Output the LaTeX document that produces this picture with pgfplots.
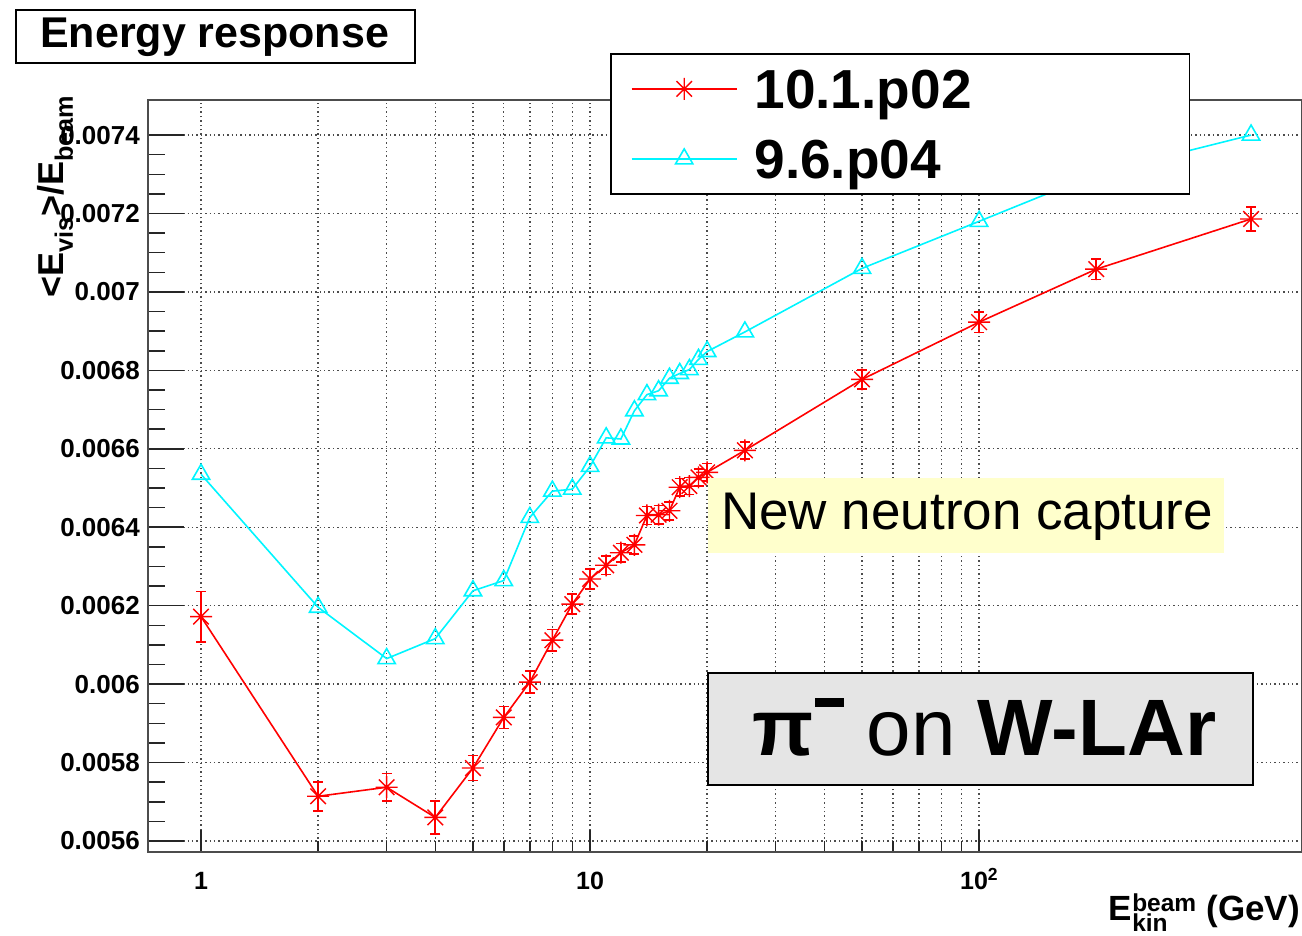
\documentclass[border=0pt]{standalone}
\usepackage{fontspec}
\setmainfont{Liberation Sans}
\usepackage{pgfplots}
\usepackage{pgfplotstable}
\pgfplotsset{compat=1.18}

\pgfdeclareplotmark{rootstar}{%
  \pgfpathmoveto{\pgfqpoint{-\pgfplotmarksize}{0pt}}\pgfpathlineto{\pgfqpoint{\pgfplotmarksize}{0pt}}%
  \pgfpathmoveto{\pgfqpoint{0pt}{-\pgfplotmarksize}}\pgfpathlineto{\pgfqpoint{0pt}{\pgfplotmarksize}}%
  \pgfpathmoveto{\pgfqpoint{-.707\pgfplotmarksize}{-.707\pgfplotmarksize}}\pgfpathlineto{\pgfqpoint{.707\pgfplotmarksize}{.707\pgfplotmarksize}}%
  \pgfpathmoveto{\pgfqpoint{-.707\pgfplotmarksize}{.707\pgfplotmarksize}}\pgfpathlineto{\pgfqpoint{.707\pgfplotmarksize}{-.707\pgfplotmarksize}}%
  \pgfusepathqstroke}

\pgfplotstableread{
E y ey
1 0.006172 0.000064
2 0.005714 0.000037
3 0.005737 0.000035
4 0.005660 0.000042
5 0.005786 0.000032
6 0.005915 0.000028
7 0.006005 0.000028
8 0.006112 0.000027
9 0.006204 0.000026
10 0.006268 0.000025
11 0.006303 0.000024
12 0.006335 0.000024
13 0.006355 0.000023
14 0.006430 0.000023
15 0.006432 0.000023
16 0.006442 0.000023
17 0.006502 0.000022
18 0.006505 0.000022
19 0.006527 0.000022
20 0.006540 0.000022
25 0.006596 0.000022
50 0.006777 0.000024
100 0.006923 0.000026
200 0.007058 0.000026
500 0.007186 0.000030
}\redtab

\pgfplotstableread{
E y
1 0.006535
2 0.006196
3 0.006065
4 0.006116
5 0.006238
6 0.006264
7 0.006425
8 0.006492
9 0.006497
10 0.006555
11 0.006628
12 0.006625
13 0.006697
14 0.006738
15 0.006748
16 0.006780
17 0.006792
18 0.006802
19 0.006828
20 0.006848
25 0.006898
50 0.007060
100 0.007180
200 0.007301
500 0.007400
}\cyantab

\definecolor{ybox}{RGB}{255,255,204}
\definecolor{gbox}{RGB}{229,229,229}
\definecolor{rootred}{RGB}{255,0,0}
\definecolor{rootcyan}{RGB}{0,245,255}

\begin{document}
\begin{tikzpicture}[x=1pt,y=1pt]
\path[use as bounding box] (0,0) rectangle (1302,936);
\begin{axis}[
  at={(148pt,84pt)}, anchor=south west,
  scale only axis, width=1154pt, height=752pt,
  xmode=log, xmin=0.7307, xmax=676,
  ymin=0.0055719, ymax=0.0074894,
  xtick={1,10,100}, xticklabels={1,10,10\textsuperscript{2}},
  ytick={0.0056,0.0058,0.006,0.0062,0.0064,0.0066,0.0068,0.007,0.0072,0.0074},
  yticklabels={0.0056,0.0058,0.006,0.0062,0.0064,0.0066,0.0068,0.007,0.0072,0.0074},
  scaled y ticks=false,
  minor y tick num=3,
  xtick pos=lower, ytick pos=left,
  tick align=inside,
  xtick style={/pgfplots/major tick length=22pt,/pgfplots/minor tick length=11pt, black!85, line width=1.5pt},
  ytick style={/pgfplots/major tick length=36pt,/pgfplots/minor tick length=17pt, black!85, line width=1.5pt},
  axis line style={draw=black!70, line width=2.2pt},
  xmajorgrids=true, xminorgrids=true, ymajorgrids=true,
  major grid style={black!70, line width=1.4pt, dash pattern=on 1.4pt off 3pt},
  minor grid style={black!70, line width=1.4pt, dash pattern=on 1.4pt off 3pt},
  xticklabel style={font=\fontsize{25}{29}\selectfont\bfseries, anchor=base, yshift=-38pt, inner sep=0pt},
  yticklabel style={font=\fontsize{26}{30}\selectfont\bfseries, anchor=east, inner sep=0pt, xshift=-8pt},
  ylabel={\textless E\textsubscript{vis}\textgreater/E\textsubscript{beam}},
  ylabel style={font=\fontsize{36}{40}\selectfont\bfseries, at={(axis description cs:-0.0806,1.0066)}, anchor=east, inner sep=0pt},
  xlabel={$\mathbf{E}^{\mathbf{beam}}_{\mathbf{kin}}$ (GeV)},
  xlabel style={font=\fontsize{35}{40}\selectfont\bfseries, at={(axis description cs:0.9983,-0.0915)}, anchor=base east, inner sep=0pt},
  legend cell align=left,
  legend image code/.code={\draw[mark repeat=2,mark phase=2,#1] plot coordinates {(0pt,0pt) (52.5pt,0pt) (105pt,0pt)};},
  legend style={at={(axis description cs:0.40035,1.0625)}, anchor=north west, draw=black, line width=1.8pt, fill=white,
    inner xsep=20pt, inner ysep=0pt, row sep=0pt, column sep=17pt,
    nodes={inner sep=0pt, text height=54.5pt, text depth=15.5pt, font=\fontsize{55}{60}\selectfont\bfseries}},
]
\addplot[rootred, line width=1.6pt, mark=rootstar, mark size=11pt, mark options={line width=1.4pt},
  error bars/.cd, y dir=both, y explicit, error mark=-, error bar style={line width=1.6pt}, error mark options={rotate=90, rootred, mark size=5pt, line width=1.6pt}]
  table[x=E, y=y, y error=ey] {\redtab};
\addlegendentry{\makebox[415pt][l]{10.1.p02}}
\addplot[rootcyan, line width=1.6pt, mark=triangle, mark size=10pt, mark options={line width=1.6pt}]
  table[x=E, y=y] {\cyantab};
\addlegendentry{\makebox[415pt][l]{9.6.p04}}
\end{axis}
\draw[line width=2pt, fill=white] (16,873) rectangle (415,926);
\node[anchor=base west, inner sep=0pt, font=\fontsize{43}{47}\selectfont\bfseries] at (40,888) {Energy response};
\fill[ybox] (708,383) rectangle (1224,458);
\node[anchor=base west, inner sep=0pt, font=\fontsize{53}{58}\selectfont] at (721,406) {New neutron capture};
\draw[line width=1.5pt, fill=gbox] (708,151) rectangle (1253,263);
\node[anchor=base west, inner sep=0pt, font=\fontsize{80}{90}\selectfont] at (752,180) {\textbf{π}\hspace{2pt}\rule[49pt]{29pt}{9pt} on \textbf{W-LAr}};
\end{tikzpicture}
\end{document}
